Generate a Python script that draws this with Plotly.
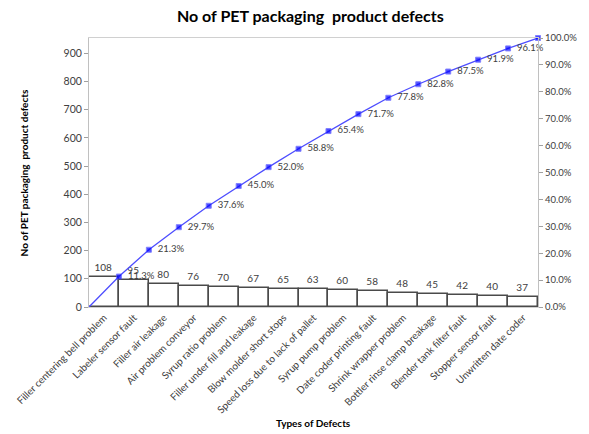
import plotly.graph_objects as go

# Defect categories and counts (sorted descending for the Pareto view)
categories = [
    "Filler centering bell problem", "Labeler sensor fault", "Filler air leakage",
    "Air problem conveyor", "Syrup ratio problem", "Filler under fill and leakage",
    "Blow molder short stops", "Speed loss due to lack of pallet", "Syrup pump problem",
    "Date coder printing fault", "Shrink wrapper problem", "Bottler rinse clamp breakage",
    "Blender tank filter fault", "Stopper sensor fault", "Unwritten date coder",
]
counts = [108, 95, 80, 76, 70, 67, 65, 63, 60, 58, 48, 45, 42, 40, 37]

total = sum(counts)
cum_share = [0.0]
running = 0
for c in counts:
    running += c
    cum_share.append(running / total)

bar_x = [i + 0.5 for i in range(len(counts))]
edge_x = list(range(len(counts) + 1))

FONT = "Lato, Carlito, Calibri, Arial, sans-serif"
TXT = "#404040"

fig = go.Figure()

fig.add_trace(go.Bar(
    x=bar_x, y=counts, width=1.0,
    marker=dict(color="white", line=dict(color="#4a4a4a", width=1.5)),
    text=[str(v) for v in counts], textposition="outside",
    textfont=dict(family=FONT, size=10, color=TXT),
    cliponaxis=False, showlegend=False,
))

pct_labels = [""] + ["  %.1f%%" % (v * 100) for v in cum_share[1:-1]] + [""]
marker_sizes = [0] + [5] * len(counts)
fig.add_trace(go.Scatter(
    x=edge_x, y=cum_share, yaxis="y2", mode="lines+markers+text",
    line=dict(color="#4d4dff", width=1.3),
    marker=dict(symbol="square", size=marker_sizes, color="#0000ff"),
    text=pct_labels, textposition="middle right",
    textfont=dict(family=FONT, size=9.5, color=TXT),
    cliponaxis=False, showlegend=False,
))

fig.update_layout(
    width=589, height=434,
    margin=dict(l=89, r=40, t=38, b=127),
    plot_bgcolor="white", paper_bgcolor="white",
    font=dict(family=FONT, size=10, color=TXT),
    bargap=0,
    title=dict(text="<b>No of PET packaging  product defects</b>",
               x=0.527, xanchor="center", y=0.962, yanchor="middle",
               font=dict(family=FONT, size=16, color="black")),
    xaxis=dict(
        range=[0, len(counts)], tickmode="array", tickvals=bar_x, ticktext=categories,
        tickangle=-45, ticks="", showgrid=False, zeroline=False,
        showline=True, linecolor="#d0d0d0", mirror=True,
        tickfont=dict(family=FONT, size=10, color=TXT),
    ),
    yaxis=dict(
        range=[0, total], tickmode="array", tickvals=list(range(0, 1000, 100)),
        ticks="outside", ticklen=4, tickcolor="#a0a0a0",
        showgrid=False, zeroline=False, showline=True, linecolor="#c0c0c0",
        tickfont=dict(family=FONT, size=10.5, color=TXT),
    ),
    yaxis2=dict(
        range=[0, 1], overlaying="y", side="right", tickformat=".1%",
        tickmode="array", tickvals=[i / 10 for i in range(11)],
        ticks="outside", ticklen=4, tickcolor="#a0a0a0",
        showgrid=False, zeroline=False, showline=True, linecolor="#c0c0c0",
        tickfont=dict(family=FONT, size=9.5, color=TXT),
    ),
    annotations=[
        dict(text="<b>No of PET packaging  product defects</b>", xref="paper", yref="paper",
             x=-0.145, y=0.5, xanchor="center", yanchor="middle", textangle=-90,
             showarrow=False, font=dict(family=FONT, size=10, color="black")),
        dict(text="<b>Types of Defects</b>", xref="paper", yref="paper",
             x=0.5, y=-0.433, xanchor="center", yanchor="middle",
             showarrow=False, font=dict(family=FONT, size=10, color="black")),
    ],
)

fig.write_html("out.html")
